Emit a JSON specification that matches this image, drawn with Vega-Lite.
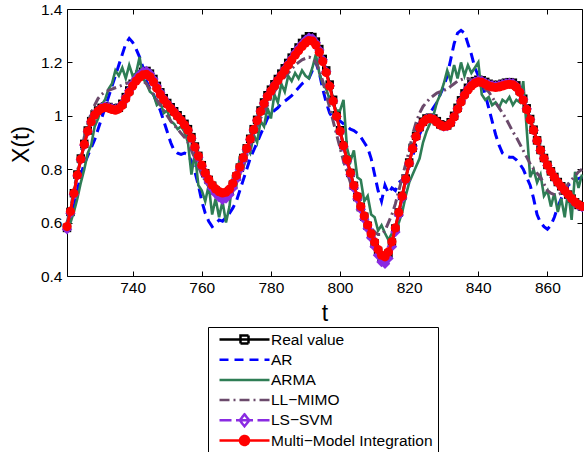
{
"$schema": "https://vega.github.io/schema/vega-lite/v6.json",
"width": 515, "height": 267,
"autosize": {"type": "none"},
"padding": {"left": 67, "top": 9, "right": 2, "bottom": 176},
"background": "white",
"config": {"view": {"stroke": "black", "strokeWidth": 1}, "font": "Liberation Sans",
  "legend": {"orient": "none", "legendX": 141, "legendY": 318, "direction": "vertical", "symbolSize": 2500, "symbolStrokeWidth": 2.5, "symbolOffset": 5, "labelOffset": 0, "labelFont": "Liberation Sans", "labelFontSize": 15.5, "labelColor": "black", "labelLimit": 400, "rowPadding": 4.2, "padding": 5, "strokeColor": "black", "fillColor": "white", "clipHeight": 15}},
"data": {"values": [
{"t":721,"Real":0.58,"AR":0.60,"ARMA":0.58,"LL":0.60,"LS":0.575,"MMI":0.585},
{"t":722,"Real":0.64,"AR":0.62,"ARMA":0.60,"LL":0.65,"LS":0.635,"MMI":0.642},
{"t":723,"Real":0.71,"AR":0.66,"ARMA":0.64,"LL":0.72,"LS":0.705,"MMI":0.71},
{"t":724,"Real":0.78,"AR":0.72,"ARMA":0.69,"LL":0.79,"LS":0.775,"MMI":0.778},
{"t":725,"Real":0.84,"AR":0.78,"ARMA":0.75,"LL":0.86,"LS":0.835,"MMI":0.838},
{"t":726,"Real":0.895,"AR":0.82,"ARMA":0.80,"LL":0.92,"LS":0.89,"MMI":0.893},
{"t":727,"Real":0.945,"AR":0.85,"ARMA":0.86,"LL":0.97,"LS":0.94,"MMI":0.943},
{"t":728,"Real":0.98,"AR":0.88,"ARMA":0.89,"LL":1.01,"LS":0.978,"MMI":0.978},
{"t":729,"Real":1.005,"AR":0.91,"ARMA":0.96,"LL":1.04,"LS":1.005,"MMI":1.003},
{"t":730,"Real":1.02,"AR":0.95,"ARMA":0.99,"LL":1.065,"LS":1.02,"MMI":1.018},
{"t":731,"Real":1.03,"AR":0.99,"ARMA":1.04,"LL":1.08,"LS":1.03,"MMI":1.027},
{"t":732,"Real":1.035,"AR":1.03,"ARMA":1.06,"LL":1.09,"LS":1.035,"MMI":1.031},
{"t":733,"Real":1.033,"AR":1.07,"ARMA":1.10,"LL":1.095,"LS":1.033,"MMI":1.029},
{"t":734,"Real":1.028,"AR":1.11,"ARMA":1.12,"LL":1.10,"LS":1.028,"MMI":1.024},
{"t":735,"Real":1.025,"AR":1.15,"ARMA":1.17,"LL":1.105,"LS":1.025,"MMI":1.021},
{"t":736,"Real":1.03,"AR":1.19,"ARMA":1.15,"LL":1.11,"LS":1.03,"MMI":1.026},
{"t":737,"Real":1.045,"AR":1.23,"ARMA":1.18,"LL":1.115,"LS":1.045,"MMI":1.04},
{"t":738,"Real":1.07,"AR":1.27,"ARMA":1.14,"LL":1.12,"LS":1.07,"MMI":1.064},
{"t":739,"Real":1.095,"AR":1.29,"ARMA":1.19,"LL":1.125,"LS":1.095,"MMI":1.088},
{"t":740,"Real":1.12,"AR":1.275,"ARMA":1.15,"LL":1.13,"LS":1.12,"MMI":1.112},
{"t":741,"Real":1.14,"AR":1.25,"ARMA":1.16,"LL":1.135,"LS":1.14,"MMI":1.13},
{"t":742,"Real":1.155,"AR":1.22,"ARMA":1.22,"LL":1.135,"LS":1.155,"MMI":1.144},
{"t":743,"Real":1.165,"AR":1.18,"ARMA":1.14,"LL":1.13,"LS":1.165,"MMI":1.153},
{"t":744,"Real":1.168,"AR":1.13,"ARMA":1.12,"LL":1.12,"LS":1.168,"MMI":1.155},
{"t":745,"Real":1.158,"AR":1.10,"ARMA":1.09,"LL":1.10,"LS":1.158,"MMI":1.146},
{"t":746,"Real":1.138,"AR":1.08,"ARMA":1.08,"LL":1.08,"LS":1.138,"MMI":1.127},
{"t":747,"Real":1.112,"AR":1.05,"ARMA":1.04,"LL":1.06,"LS":1.112,"MMI":1.103},
{"t":748,"Real":1.088,"AR":1.02,"ARMA":1.05,"LL":1.04,"LS":1.088,"MMI":1.08},
{"t":749,"Real":1.066,"AR":0.98,"ARMA":1.01,"LL":1.02,"LS":1.066,"MMI":1.06},
{"t":750,"Real":1.048,"AR":0.94,"ARMA":1.02,"LL":1.00,"LS":1.048,"MMI":1.043},
{"t":751,"Real":1.032,"AR":0.90,"ARMA":0.98,"LL":0.98,"LS":1.032,"MMI":1.028},
{"t":752,"Real":1.017,"AR":0.87,"ARMA":0.97,"LL":0.965,"LS":1.017,"MMI":1.013},
{"t":753,"Real":1.002,"AR":0.86,"ARMA":0.95,"LL":0.95,"LS":1.0,"MMI":0.998},
{"t":754,"Real":0.987,"AR":0.855,"ARMA":0.96,"LL":0.935,"LS":0.985,"MMI":0.983},
{"t":755,"Real":0.97,"AR":0.86,"ARMA":0.94,"LL":0.92,"LS":0.967,"MMI":0.966},
{"t":756,"Real":0.95,"AR":0.855,"ARMA":0.90,"LL":0.90,"LS":0.946,"MMI":0.946},
{"t":757,"Real":0.92,"AR":0.83,"ARMA":0.78,"LL":0.87,"LS":0.916,"MMI":0.917},
{"t":758,"Real":0.885,"AR":0.79,"ARMA":0.86,"LL":0.84,"LS":0.88,"MMI":0.883},
{"t":759,"Real":0.85,"AR":0.74,"ARMA":0.74,"LL":0.81,"LS":0.845,"MMI":0.849},
{"t":760,"Real":0.815,"AR":0.68,"ARMA":0.72,"LL":0.78,"LS":0.81,"MMI":0.815},
{"t":761,"Real":0.785,"AR":0.635,"ARMA":0.68,"LL":0.755,"LS":0.778,"MMI":0.786},
{"t":762,"Real":0.76,"AR":0.605,"ARMA":0.74,"LL":0.735,"LS":0.752,"MMI":0.762},
{"t":763,"Real":0.738,"AR":0.585,"ARMA":0.63,"LL":0.72,"LS":0.728,"MMI":0.741},
{"t":764,"Real":0.72,"AR":0.595,"ARMA":0.69,"LL":0.705,"LS":0.708,"MMI":0.726},
{"t":765,"Real":0.708,"AR":0.61,"ARMA":0.62,"LL":0.695,"LS":0.695,"MMI":0.716},
{"t":766,"Real":0.70,"AR":0.605,"ARMA":0.68,"LL":0.69,"LS":0.686,"MMI":0.711},
{"t":767,"Real":0.705,"AR":0.62,"ARMA":0.60,"LL":0.69,"LS":0.69,"MMI":0.714},
{"t":768,"Real":0.718,"AR":0.635,"ARMA":0.66,"LL":0.70,"LS":0.704,"MMI":0.725},
{"t":769,"Real":0.742,"AR":0.655,"ARMA":0.77,"LL":0.72,"LS":0.73,"MMI":0.747},
{"t":770,"Real":0.772,"AR":0.68,"ARMA":0.74,"LL":0.75,"LS":0.762,"MMI":0.776},
{"t":771,"Real":0.806,"AR":0.72,"ARMA":0.85,"LL":0.78,"LS":0.798,"MMI":0.808},
{"t":772,"Real":0.842,"AR":0.76,"ARMA":0.80,"LL":0.81,"LS":0.836,"MMI":0.843},
{"t":773,"Real":0.878,"AR":0.80,"ARMA":0.88,"LL":0.85,"LS":0.873,"MMI":0.878},
{"t":774,"Real":0.914,"AR":0.84,"ARMA":0.86,"LL":0.89,"LS":0.91,"MMI":0.913},
{"t":775,"Real":0.95,"AR":0.87,"ARMA":0.93,"LL":0.93,"LS":0.947,"MMI":0.948},
{"t":776,"Real":0.985,"AR":0.90,"ARMA":0.90,"LL":0.96,"LS":0.983,"MMI":0.982},
{"t":777,"Real":1.02,"AR":0.93,"ARMA":0.98,"LL":0.99,"LS":1.018,"MMI":1.016},
{"t":778,"Real":1.05,"AR":0.96,"ARMA":0.96,"LL":1.015,"LS":1.048,"MMI":1.046},
{"t":779,"Real":1.077,"AR":0.99,"ARMA":1.03,"LL":1.04,"LS":1.075,"MMI":1.072},
{"t":780,"Real":1.098,"AR":1.01,"ARMA":0.99,"LL":1.065,"LS":1.096,"MMI":1.093},
{"t":781,"Real":1.118,"AR":1.02,"ARMA":1.08,"LL":1.09,"LS":1.116,"MMI":1.112},
{"t":782,"Real":1.138,"AR":1.03,"ARMA":1.05,"LL":1.11,"LS":1.136,"MMI":1.132},
{"t":783,"Real":1.158,"AR":1.045,"ARMA":1.12,"LL":1.13,"LS":1.156,"MMI":1.151},
{"t":784,"Real":1.178,"AR":1.055,"ARMA":1.09,"LL":1.145,"LS":1.176,"MMI":1.17},
{"t":785,"Real":1.198,"AR":1.065,"ARMA":1.15,"LL":1.16,"LS":1.196,"MMI":1.189},
{"t":786,"Real":1.218,"AR":1.075,"ARMA":1.13,"LL":1.175,"LS":1.216,"MMI":1.208},
{"t":787,"Real":1.238,"AR":1.09,"ARMA":1.16,"LL":1.19,"LS":1.236,"MMI":1.227},
{"t":788,"Real":1.256,"AR":1.105,"ARMA":1.14,"LL":1.20,"LS":1.254,"MMI":1.244},
{"t":789,"Real":1.273,"AR":1.12,"ARMA":1.17,"LL":1.21,"LS":1.27,"MMI":1.26},
{"t":790,"Real":1.288,"AR":1.13,"ARMA":1.15,"LL":1.215,"LS":1.284,"MMI":1.273},
{"t":791,"Real":1.298,"AR":1.14,"ARMA":1.14,"LL":1.22,"LS":1.293,"MMI":1.282},
{"t":792,"Real":1.295,"AR":1.17,"ARMA":1.18,"LL":1.215,"LS":1.29,"MMI":1.28},
{"t":793,"Real":1.278,"AR":1.20,"ARMA":1.23,"LL":1.20,"LS":1.274,"MMI":1.265},
{"t":794,"Real":1.25,"AR":1.16,"ARMA":1.16,"LL":1.17,"LS":1.246,"MMI":1.238},
{"t":795,"Real":1.213,"AR":1.10,"ARMA":1.12,"LL":1.13,"LS":1.21,"MMI":1.203},
{"t":796,"Real":1.17,"AR":1.05,"ARMA":1.10,"LL":1.08,"LS":1.166,"MMI":1.162},
{"t":797,"Real":1.117,"AR":1.01,"ARMA":1.06,"LL":1.03,"LS":1.113,"MMI":1.111},
{"t":798,"Real":1.06,"AR":0.99,"ARMA":1.04,"LL":0.98,"LS":1.055,"MMI":1.055},
{"t":799,"Real":1.002,"AR":0.985,"ARMA":1.02,"LL":0.93,"LS":0.997,"MMI":0.998},
{"t":800,"Real":0.946,"AR":0.98,"ARMA":1.02,"LL":0.88,"LS":0.94,"MMI":0.943},
{"t":801,"Real":0.89,"AR":0.97,"ARMA":1.06,"LL":0.83,"LS":0.884,"MMI":0.888},
{"t":802,"Real":0.836,"AR":0.96,"ARMA":0.88,"LL":0.79,"LS":0.83,"MMI":0.835},
{"t":803,"Real":0.786,"AR":0.95,"ARMA":0.83,"LL":0.75,"LS":0.779,"MMI":0.786},
{"t":804,"Real":0.738,"AR":0.945,"ARMA":0.87,"LL":0.71,"LS":0.73,"MMI":0.739},
{"t":805,"Real":0.696,"AR":0.935,"ARMA":0.77,"LL":0.68,"LS":0.688,"MMI":0.698},
{"t":806,"Real":0.658,"AR":0.92,"ARMA":0.76,"LL":0.65,"LS":0.65,"MMI":0.66},
{"t":807,"Real":0.622,"AR":0.90,"ARMA":0.68,"LL":0.62,"LS":0.613,"MMI":0.625},
{"t":808,"Real":0.588,"AR":0.88,"ARMA":0.70,"LL":0.60,"LS":0.578,"MMI":0.591},
{"t":809,"Real":0.554,"AR":0.84,"ARMA":0.63,"LL":0.58,"LS":0.543,"MMI":0.558},
{"t":810,"Real":0.522,"AR":0.78,"ARMA":0.62,"LL":0.565,"LS":0.51,"MMI":0.527},
{"t":811,"Real":0.492,"AR":0.72,"ARMA":0.57,"LL":0.555,"LS":0.478,"MMI":0.499},
{"t":812,"Real":0.468,"AR":0.68,"ARMA":0.59,"LL":0.555,"LS":0.452,"MMI":0.478},
{"t":813,"Real":0.462,"AR":0.74,"ARMA":0.56,"LL":0.57,"LS":0.446,"MMI":0.472},
{"t":814,"Real":0.484,"AR":0.71,"ARMA":0.535,"LL":0.60,"LS":0.466,"MMI":0.49},
{"t":815,"Real":0.525,"AR":0.73,"ARMA":0.56,"LL":0.63,"LS":0.51,"MMI":0.528},
{"t":816,"Real":0.578,"AR":0.72,"ARMA":0.58,"LL":0.67,"LS":0.565,"MMI":0.58},
{"t":817,"Real":0.638,"AR":0.75,"ARMA":0.60,"LL":0.72,"LS":0.628,"MMI":0.638},
{"t":818,"Real":0.70,"AR":0.76,"ARMA":0.64,"LL":0.77,"LS":0.692,"MMI":0.699},
{"t":819,"Real":0.765,"AR":0.78,"ARMA":0.70,"LL":0.82,"LS":0.758,"MMI":0.763},
{"t":820,"Real":0.825,"AR":0.81,"ARMA":0.75,"LL":0.87,"LS":0.82,"MMI":0.823},
{"t":821,"Real":0.88,"AR":0.85,"ARMA":0.78,"LL":0.93,"LS":0.876,"MMI":0.877},
{"t":822,"Real":0.925,"AR":0.89,"ARMA":0.81,"LL":0.975,"LS":0.922,"MMI":0.922},
{"t":823,"Real":0.958,"AR":0.93,"ARMA":0.84,"LL":1.01,"LS":0.955,"MMI":0.955},
{"t":824,"Real":0.978,"AR":0.96,"ARMA":0.90,"LL":1.035,"LS":0.976,"MMI":0.975},
{"t":825,"Real":0.99,"AR":0.99,"ARMA":0.94,"LL":1.05,"LS":0.988,"MMI":0.987},
{"t":826,"Real":0.993,"AR":1.01,"ARMA":0.97,"LL":1.065,"LS":0.991,"MMI":0.99},
{"t":827,"Real":0.99,"AR":1.03,"ARMA":1.00,"LL":1.075,"LS":0.988,"MMI":0.987},
{"t":828,"Real":0.98,"AR":1.05,"ARMA":1.05,"LL":1.085,"LS":0.978,"MMI":0.977},
{"t":829,"Real":0.968,"AR":1.08,"ARMA":1.08,"LL":1.09,"LS":0.966,"MMI":0.966},
{"t":830,"Real":0.962,"AR":1.11,"ARMA":1.12,"LL":1.095,"LS":0.96,"MMI":0.96},
{"t":831,"Real":0.964,"AR":1.15,"ARMA":1.17,"LL":1.10,"LS":0.962,"MMI":0.962},
{"t":832,"Real":0.976,"AR":1.21,"ARMA":1.13,"LL":1.11,"LS":0.974,"MMI":0.973},
{"t":833,"Real":1.0,"AR":1.27,"ARMA":1.19,"LL":1.12,"LS":0.998,"MMI":0.996},
{"t":834,"Real":1.03,"AR":1.31,"ARMA":1.14,"LL":1.13,"LS":1.028,"MMI":1.025},
{"t":835,"Real":1.058,"AR":1.32,"ARMA":1.20,"LL":1.135,"LS":1.056,"MMI":1.052},
{"t":836,"Real":1.084,"AR":1.31,"ARMA":1.15,"LL":1.14,"LS":1.082,"MMI":1.077},
{"t":837,"Real":1.105,"AR":1.27,"ARMA":1.19,"LL":1.14,"LS":1.103,"MMI":1.097},
{"t":838,"Real":1.12,"AR":1.23,"ARMA":1.16,"LL":1.135,"LS":1.118,"MMI":1.112},
{"t":839,"Real":1.13,"AR":1.18,"ARMA":1.18,"LL":1.13,"LS":1.128,"MMI":1.122},
{"t":840,"Real":1.135,"AR":1.15,"ARMA":1.20,"LL":1.12,"LS":1.133,"MMI":1.127},
{"t":841,"Real":1.133,"AR":1.12,"ARMA":1.08,"LL":1.11,"LS":1.131,"MMI":1.125},
{"t":842,"Real":1.127,"AR":1.08,"ARMA":1.06,"LL":1.10,"LS":1.125,"MMI":1.119},
{"t":843,"Real":1.12,"AR":1.03,"ARMA":1.07,"LL":1.09,"LS":1.118,"MMI":1.112},
{"t":844,"Real":1.116,"AR":0.98,"ARMA":1.04,"LL":1.07,"LS":1.114,"MMI":1.108},
{"t":845,"Real":1.114,"AR":0.93,"ARMA":1.05,"LL":1.05,"LS":1.112,"MMI":1.106},
{"t":846,"Real":1.116,"AR":0.89,"ARMA":1.03,"LL":1.03,"LS":1.114,"MMI":1.108},
{"t":847,"Real":1.12,"AR":0.86,"ARMA":1.06,"LL":1.01,"LS":1.118,"MMI":1.112},
{"t":848,"Real":1.124,"AR":0.85,"ARMA":1.05,"LL":0.99,"LS":1.122,"MMI":1.116},
{"t":849,"Real":1.126,"AR":0.845,"ARMA":1.07,"LL":0.965,"LS":1.124,"MMI":1.118},
{"t":850,"Real":1.124,"AR":0.845,"ARMA":1.04,"LL":0.94,"LS":1.122,"MMI":1.116},
{"t":851,"Real":1.114,"AR":0.835,"ARMA":1.06,"LL":0.92,"LS":1.112,"MMI":1.107},
{"t":852,"Real":1.094,"AR":0.82,"ARMA":1.05,"LL":0.895,"LS":1.092,"MMI":1.088},
{"t":853,"Real":1.064,"AR":0.80,"ARMA":1.13,"LL":0.87,"LS":1.062,"MMI":1.059},
{"t":854,"Real":1.028,"AR":0.77,"ARMA":0.95,"LL":0.845,"LS":1.026,"MMI":1.024},
{"t":855,"Real":0.988,"AR":0.74,"ARMA":0.77,"LL":0.82,"LS":0.986,"MMI":0.985},
{"t":856,"Real":0.948,"AR":0.69,"ARMA":0.80,"LL":0.80,"LS":0.946,"MMI":0.946},
{"t":857,"Real":0.908,"AR":0.63,"ARMA":0.75,"LL":0.785,"LS":0.906,"MMI":0.907},
{"t":858,"Real":0.872,"AR":0.60,"ARMA":0.78,"LL":0.77,"LS":0.87,"MMI":0.871},
{"t":859,"Real":0.842,"AR":0.585,"ARMA":0.70,"LL":0.745,"LS":0.84,"MMI":0.841},
{"t":860,"Real":0.816,"AR":0.575,"ARMA":0.72,"LL":0.72,"LS":0.814,"MMI":0.815},
{"t":861,"Real":0.792,"AR":0.59,"ARMA":0.66,"LL":0.71,"LS":0.79,"MMI":0.791},
{"t":862,"Real":0.771,"AR":0.62,"ARMA":0.71,"LL":0.705,"LS":0.769,"MMI":0.77},
{"t":863,"Real":0.752,"AR":0.66,"ARMA":0.64,"LL":0.705,"LS":0.75,"MMI":0.751},
{"t":864,"Real":0.736,"AR":0.69,"ARMA":0.69,"LL":0.71,"LS":0.734,"MMI":0.735},
{"t":865,"Real":0.72,"AR":0.72,"ARMA":0.62,"LL":0.725,"LS":0.718,"MMI":0.72},
{"t":866,"Real":0.705,"AR":0.74,"ARMA":0.72,"LL":0.745,"LS":0.703,"MMI":0.705},
{"t":867,"Real":0.69,"AR":0.75,"ARMA":0.61,"LL":0.76,"LS":0.688,"MMI":0.69},
{"t":868,"Real":0.676,"AR":0.76,"ARMA":0.79,"LL":0.775,"LS":0.674,"MMI":0.677},
{"t":869,"Real":0.666,"AR":0.765,"ARMA":0.73,"LL":0.79,"LS":0.664,"MMI":0.667},
{"t":870,"Real":0.66,"AR":0.77,"ARMA":0.78,"LL":0.80,"LS":0.658,"MMI":0.661}
]},
"transform": [{"fold": ["Real","AR","ARMA","LL","LS","MMI"], "as": ["series","value"]}],
"encoding": {
  "x": {"field": "t", "type": "quantitative", "scale": {"domain": [721, 870], "nice": false, "zero": false}, "axis": null},
  "y": {"field": "value", "type": "quantitative", "scale": {"domain": [0.4, 1.4], "nice": false, "zero": false}, "axis": null}
},
"layer": [
  {"transform": [{"filter": "datum.series === 'Real'"}],
   "mark": {"type": "line", "color": "black", "strokeWidth": 2.8},
   "encoding": {
     "x": {"field": "t", "type": "quantitative", "scale": {"domain": [721, 870], "nice": false, "zero": false},
       "axis": {"orient": "bottom", "values": [740,760,780,800,820,840,860], "tickSize": -5, "tickColor": "black", "tickWidth": 1, "domain": false, "grid": false,
         "labelFont": "Liberation Sans", "labelFontSize": 15.5, "labelColor": "black", "labelPadding": 9, "labelFlush": false, "labelOverlap": false,
         "title": "t", "titleFont": "Liberation Sans", "titleFontSize": 23, "titleFontWeight": "normal", "titleColor": "black", "titleY": 44, "titleBaseline": "alphabetic"}},
     "y": {"field": "value", "type": "quantitative", "scale": {"domain": [0.4, 1.4], "nice": false, "zero": false},
       "axis": {"orient": "left", "values": [0.4,0.6,0.8,1,1.2,1.4], "format": "~g", "tickSize": -5, "tickColor": "black", "tickWidth": 1, "domain": false, "grid": false,
         "labelFont": "Liberation Sans", "labelFontSize": 15.5, "labelColor": "black", "labelPadding": 10, "labelFlush": false, "labelOverlap": false,
         "title": "X(t)", "titleFont": "Liberation Sans", "titleFontSize": 23, "titleFontWeight": "normal", "titleColor": "black", "titleX": -46, "titleY": 135, "titleAngle": -90, "titleAlign": "center", "titleBaseline": "middle"}}
   }},
  {"transform": [{"filter": "datum.series === 'Real'"}],
   "mark": {"type": "point", "shape": "square", "filled": true, "color": "black", "size": 72, "opacity": 1},
   "encoding": {
     "x": {"field": "t", "type": "quantitative", "scale": {"domain": [721, 870], "nice": false, "zero": false},
       "axis": {"orient": "top", "values": [740,760,780,800,820,840,860], "labels": false, "tickSize": -5, "tickColor": "black", "tickWidth": 1, "domain": false, "grid": false, "title": null}},
     "y": {"field": "value", "type": "quantitative", "scale": {"domain": [0.4, 1.4], "nice": false, "zero": false},
       "axis": {"orient": "right", "values": [0.4,0.6,0.8,1,1.2,1.4], "labels": false, "tickSize": -5, "tickColor": "black", "tickWidth": 1, "domain": false, "grid": false, "title": null}}
   }},
  {"transform": [{"filter": "datum.series === 'AR'"}],
   "mark": {"type": "line", "color": "#0000ff", "strokeWidth": 3, "strokeDash": [10, 6]}},
  {"transform": [{"filter": "datum.series === 'ARMA'"}],
   "mark": {"type": "line", "color": "#2e7d55", "strokeWidth": 2.6}},
  {"transform": [{"filter": "datum.series === 'LL'"}],
   "mark": {"type": "line", "color": "#6b4a6b", "strokeWidth": 3, "strokeDash": [10, 4, 2, 4]}},
  {"transform": [{"filter": "datum.series === 'LS'"}],
   "mark": {"type": "line", "color": "#8a2be2", "strokeWidth": 2.5, "strokeDash": [8, 5]}},
  {"transform": [{"filter": "datum.series === 'LS'"}],
   "mark": {"type": "point", "shape": "diamond", "filled": true, "color": "#8a2be2", "size": 110, "opacity": 1}},
  {"transform": [{"filter": "datum.series === 'MMI'"}],
   "mark": {"type": "line", "color": "#ff0000", "strokeWidth": 3}},
  {"transform": [{"filter": "datum.series === 'MMI'"}],
   "mark": {"type": "point", "shape": "circle", "filled": true, "color": "#ff0000", "size": 85, "opacity": 1}},
  {"transform": [{"filter": "datum.t < 0"}],
   "mark": {"type": "point", "filled": true, "opacity": 1, "strokeWidth": 2.5},
   "encoding": {
     "shape": {"field": "series", "type": "nominal",
       "scale": {"domain": ["Real","AR","ARMA","LL","LS","MMI"],
         "range": ["M-1,0H1M-0.16,-0.16H0.16V0.16H-0.16Z", "M-1,0H1", "M-1,0H1", "M-1,0H1", "M-1,0H-0.52M-0.34,0H0.34M0.52,0H1M0,-0.24L0.19,0L0,0.24L-0.19,0Z", "M-1,0H1M0.18,0A0.18,0.18,0,1,1,-0.18,0A0.18,0.18,0,1,1,0.18,0Z"]},
       "legend": {"title": null, "labelExpr": "datum.label == 'Real' ? 'Real value' : datum.label == 'LL' ? 'LL−MIMO' : datum.label == 'LS' ? 'LS−SVM' : datum.label == 'MMI' ? 'Multi−Model Integration' : datum.label"}},
     "fill": {"field": "series", "type": "nominal",
       "scale": {"domain": ["Real","AR","ARMA","LL","LS","MMI"], "range": ["white","white","white","white","white","#ff0000"]},
       "legend": {"title": null, "labelExpr": "datum.label == 'Real' ? 'Real value' : datum.label == 'LL' ? 'LL−MIMO' : datum.label == 'LS' ? 'LS−SVM' : datum.label == 'MMI' ? 'Multi−Model Integration' : datum.label"}},
     "stroke": {"field": "series", "type": "nominal",
       "scale": {"domain": ["Real","AR","ARMA","LL","LS","MMI"], "range": ["black","#0000ff","#2e7d55","#6b4a6b","#8a2be2","#ff0000"]},
       "legend": {"title": null, "labelExpr": "datum.label == 'Real' ? 'Real value' : datum.label == 'LL' ? 'LL−MIMO' : datum.label == 'LS' ? 'LS−SVM' : datum.label == 'MMI' ? 'Multi−Model Integration' : datum.label"}},
     "strokeDash": {"field": "series", "type": "nominal",
       "scale": {"domain": ["Real","AR","ARMA","LL","LS","MMI"], "range": [[1,0],[9,6],[1,0],[10,4,2,4],[1,0],[1,0]]},
       "legend": {"title": null, "labelExpr": "datum.label == 'Real' ? 'Real value' : datum.label == 'LL' ? 'LL−MIMO' : datum.label == 'LS' ? 'LS−SVM' : datum.label == 'MMI' ? 'Multi−Model Integration' : datum.label"}}
   }}
],
"resolve": {"axis": {"x": "independent", "y": "independent"}}
}
